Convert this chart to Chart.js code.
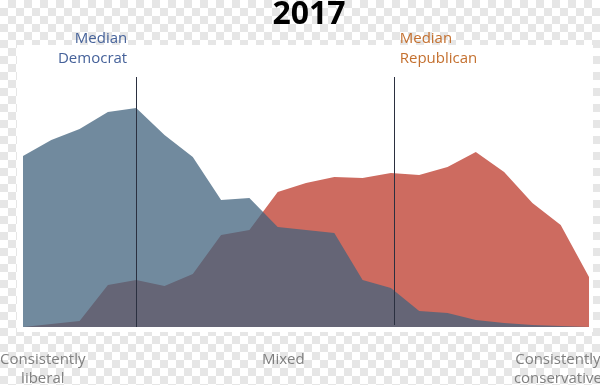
<!DOCTYPE html>
<html>
<head>
<meta charset="utf-8">
<script src="https://cdn.jsdelivr.net/npm/chart.js@4/dist/chart.umd.min.js"></script>
<style>
  html, body { margin: 0; padding: 0; }
  body {
    width: 600px; height: 385px; overflow: hidden;
    background-color: #ffffff;
    background-image: conic-gradient(#e6e6e6 25%, #ffffff 0 50%, #e6e6e6 0 75%, #ffffff 0);
    background-size: 16px 16px;
  }
  #wrap { position: relative; width: 600px; height: 385px; }
</style>
</head>
<body>
<div id="wrap"><canvas id="c" width="600" height="385"></canvas></div>
<script>
// ---- data ----
const title = "2017";
const positions = [0,1,2,3,4,5,6,7,8,9,10,11,12,13,14,15,16,17,18,19,20];
const democrats = [8.55,9.35,9.9,10.75,10.95,9.6,8.5,6.35,6.45,5.0,4.85,4.7,2.35,1.95,0.8,0.7,0.35,0.2,0.1,0.05,0];
const republicans = [0,0.15,0.3,2.1,2.35,2.05,2.65,4.6,4.85,6.75,7.2,7.5,7.45,7.7,7.6,8.0,8.75,7.75,6.2,5.1,2.5];
const medianDemocrat = 4;
const medianRepublican = 13.1;
const medianLineTop = 12.5;
const medianDemLabel = ["Median", "Democrat"];
const medianRepLabel = ["Median", "Republican"];
const axisLabels = [
  { x: 0.7,  lines: ["Consistently", "liberal"] },
  { x: 9.2,  lines: ["Mixed"] },
  { x: 18.9, lines: ["Consistently", "conservative"] }
];

const FONT = "'Open Sans', 'DejaVu Sans', sans-serif";

const decorPlugin = {
  id: 'decor',
  beforeDraw(chart) {
    const ctx = chart.ctx, a = chart.chartArea;
    ctx.save();
    ctx.fillStyle = '#ffffff';
    ctx.fillRect(a.left - 6, a.top, (a.right - a.left) + 10, (a.bottom - a.top) + 5);
    ctx.restore();
  },
  afterDatasetsDraw(chart) {
    const ctx = chart.ctx, xs = chart.scales.x, ys = chart.scales.y;
    ctx.save();
    // median lines
    ctx.lineWidth = 1;
    ctx.strokeStyle = '#2b3040';
    [[medianDemocrat, ys.getPixelForValue(0)], [medianRepublican, ys.getPixelForValue(0.1)]].forEach(([v, yb]) => {
      const px = Math.round(xs.getPixelForValue(v)) + 0.5;
      ctx.beginPath();
      ctx.moveTo(px, ys.getPixelForValue(medianLineTop));
      ctx.lineTo(px, yb);
      ctx.stroke();
    });
    // median labels
    ctx.font = "15px " + FONT;
    ctx.textBaseline = 'middle';
    const dx = xs.getPixelForValue(medianDemocrat);
    ctx.fillStyle = '#46629a';
    ctx.textAlign = 'right';
    ctx.fillText(medianDemLabel[0], dx - 9, 39);
    ctx.fillText(medianDemLabel[1], dx - 9, 59);
    const rx = xs.getPixelForValue(medianRepublican);
    ctx.fillStyle = '#c4702f';
    ctx.textAlign = 'left';
    ctx.fillText(medianRepLabel[0], rx + 6, 39);
    ctx.fillText(medianRepLabel[1], rx + 6, 59);
    // axis labels
    ctx.fillStyle = '#808080';
    ctx.textAlign = 'center';
    axisLabels.forEach(l => {
      const px = xs.getPixelForValue(l.x);
      l.lines.forEach((t, i) => ctx.fillText(t, px, 360 + i * 19));
    });
    // title
    ctx.fillStyle = '#000000';
    ctx.font = "bold 32px " + FONT;
    ctx.fillText(title, 309, 15);
    ctx.restore();
  }
};

new Chart(document.getElementById('c'), {
  type: 'line',
  data: {
    labels: positions,
    datasets: [
      {
        label: 'Democrats',
        data: positions.map((p, i) => ({ x: p, y: democrats[i] })),
        backgroundColor: 'rgba(66,99,126,0.75)',
        borderWidth: 0,
        pointRadius: 0,
        fill: 'origin',
        tension: 0
      },
      {
        label: 'Republicans',
        data: positions.map((p, i) => ({ x: p, y: republicans[i] })),
        backgroundColor: 'rgb(205,107,96)',
        borderWidth: 0,
        pointRadius: 0,
        fill: 'origin',
        tension: 0
      }
    ]
  },
  options: {
    responsive: false,
    animation: false,
    layout: { padding: { left: 23, right: 11, top: 45, bottom: 58 } },
    plugins: { legend: { display: false }, tooltip: { enabled: false }, title: { display: false } },
    scales: {
      x: { type: 'linear', min: 0, max: 20, display: false },
      y: { min: 0, max: 14.1, display: false }
    }
  },
  plugins: [decorPlugin]
});
</script>
</body>
</html>
